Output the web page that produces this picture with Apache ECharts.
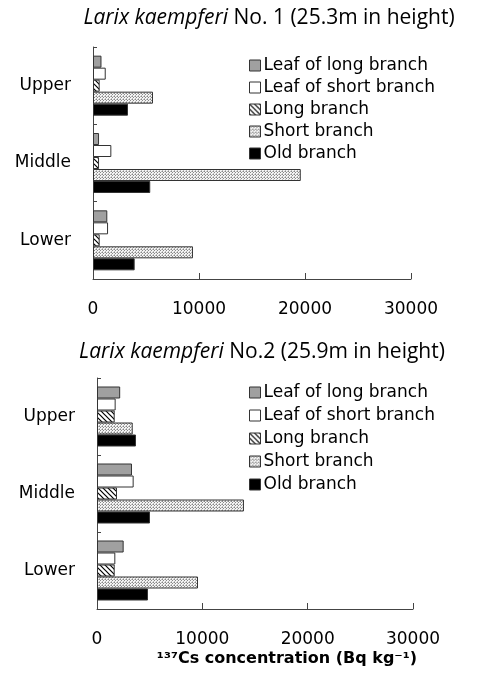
<!DOCTYPE html>
<html>
<head>
<meta charset="utf-8">
<script src="https://cdn.jsdelivr.net/npm/echarts@6/dist/echarts.min.js"></script>
<style>
  html, body { margin: 0; padding: 0; background: #fff; }
  #chart { width: 485px; height: 674px; }
</style>
</head>
<body>
<div id="chart"></div>
<script>
// positions along the stem
const heights = ['Upper', 'Middle', 'Lower']
const parts = ['Leaf of long branch', 'Leaf of short branch', 'Long branch', 'Short branch', 'Old branch']
const xTicks = [0, 10000, 20000, 30000]

// 137Cs (Bq/kg), tree No. 1
const tree1LeafLong = [800, 570, 1350]
const tree1LeafShort = [1200, 1730, 1420]
const tree1LongBranch = [630, 570, 630]
const tree1ShortBranch = [5660, 19600, 9430]
const tree1OldBranch = [3300, 5400, 3930]

// tree No. 2
const tree2LeafLong = [2200, 3320, 2530]
const tree2LeafShort = [1770, 3480, 1740]
const tree2LongBranch = [1680, 1900, 1680]
const tree2ShortBranch = [3390, 13950, 9590]
const tree2OldBranch = [3700, 5030, 4840]

function hatchTile () {
  let c = document.createElement('canvas')
  c.width = 5
  c.height = 5
  let g = c.getContext('2d')
  g.fillStyle = '#fff'
  g.fillRect(0, 0, 5, 5)
  g.strokeStyle = '#000'
  g.lineWidth = 1.2
  g.beginPath()
  g.moveTo(-1, -1); g.lineTo(6, 6)
  g.moveTo(-1, 4); g.lineTo(1, 6)
  g.moveTo(4, -1); g.lineTo(6, 1)
  g.stroke()
  return c
}

function dotTile () {
  let c = document.createElement('canvas')
  c.width = 3
  c.height = 3
  let g = c.getContext('2d')
  g.fillStyle = '#f4f4f4'
  g.fillRect(0, 0, 3, 3)
  g.fillStyle = '#888'
  g.fillRect(0, 0, 1, 1)
  g.fillRect(1, 1, 1, 1)
  g.fillStyle = '#bbb'
  g.fillRect(2, 0, 1, 1)
  g.fillRect(0, 2, 1, 1)
  return c
}

const fills = [
  '#a0a0a0',
  '#ffffff',
  { image: hatchTile(), repeat: 'repeat' },
  { image: dotTile(), repeat: 'repeat' },
  '#000000'
]

const labelFont = 'DejaVu Sans'

function makeSeries (axisIndex, lists) {
  return lists.map((vals, i) => ({
    name: parts[i],
    type: 'bar',
    xAxisIndex: axisIndex,
    yAxisIndex: axisIndex,
    barWidth: 12,
    barGap: '0%',
    itemStyle: { color: fills[i], borderColor: '#333', borderWidth: 1 },
    data: vals
  }))
}

function xAxisCfg (grid) {
  return {
    type: 'value',
    gridIndex: grid,
    min: xTicks[0],
    max: xTicks[xTicks.length - 1],
    interval: xTicks[1] - xTicks[0],
    axisLine: { show: true, lineStyle: { color: '#444', width: 1 } },
    axisTick: { show: true, inside: true, length: 6, lineStyle: { color: '#444' } },
    splitLine: { show: false },
    axisLabel: {
      margin: 22,
      fontSize: 17,
      color: '#000',
      fontFamily: labelFont,
      formatter: v => String(v)
    }
  }
}

function yAxisCfg (grid) {
  return {
    type: 'category',
    gridIndex: grid,
    data: heights,
    inverse: true,
    axisLine: { show: true, lineStyle: { color: '#444', width: 1 } },
    axisTick: { show: true, inside: true, length: 4, lineStyle: { color: '#444' } },
    axisLabel: { margin: 22, fontSize: 17, color: '#000', fontFamily: labelFont }
  }
}

function legendCfg (top, gap) {
  return {
    orient: 'vertical',
    left: 249,
    top: top,
    padding: 0,
    itemWidth: 11,
    itemHeight: 11,
    itemGap: gap,
    icon: 'rect',
    data: parts,
    selectedMode: false,
    itemStyle: { borderColor: '#333', borderWidth: 1 },
    textStyle: { fontSize: 17, color: '#000', fontFamily: labelFont, padding: [0, 0, 0, -2] }
  }
}

const titleRich = {
  i: { fontStyle: 'italic', fontSize: 21, fontFamily: 'Open Sans', color: '#000' }
}

let myChart = echarts.init(document.getElementById('chart'))
myChart.setOption({
  animation: false,
  title: [
    {
      text: '{i|Larix kaempferi} No. 1 (25.3m in height)',
      left: 264, top: 3, textAlign: 'center',
      textStyle: { fontSize: 21, fontWeight: 'normal', fontFamily: 'Open Sans', color: '#000', rich: titleRich }
    },
    {
      text: '{i|Larix kaempferi} No.2 (25.9m in height)',
      left: 257, top: 337, textAlign: 'center',
      textStyle: { fontSize: 21, fontWeight: 'normal', fontFamily: 'Open Sans', color: '#000', rich: titleRich }
    },
    {
      text: '¹³⁷Cs concentration (Bq kg⁻¹)',
      left: 282, top: 646, textAlign: 'center',
      textStyle: { fontSize: 16, fontWeight: 'bold', fontFamily: labelFont, color: '#000' }
    }
  ],
  legend: [legendCfg(57, 5), legendCfg(384, 6)],
  grid: [
    { left: 93, top: 47, width: 318, height: 232 },
    { left: 97, top: 378, width: 316, height: 231 }
  ],
  xAxis: [xAxisCfg(0), xAxisCfg(1)],
  yAxis: [yAxisCfg(0), yAxisCfg(1)],
  series: makeSeries(0, [tree1LeafLong, tree1LeafShort, tree1LongBranch, tree1ShortBranch, tree1OldBranch])
    .concat(makeSeries(1, [tree2LeafLong, tree2LeafShort, tree2LongBranch, tree2ShortBranch, tree2OldBranch]))
})
</script>
</body>
</html>
